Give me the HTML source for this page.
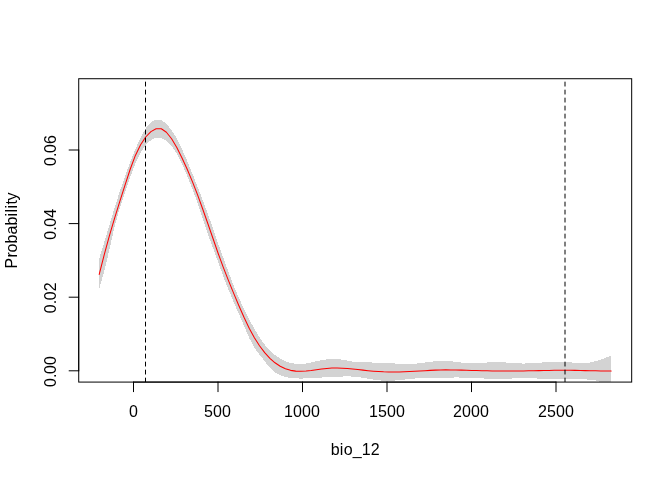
<!DOCTYPE html>
<html lang="en"><head><meta charset="utf-8"><title>bio_12 response</title>
<style>html,body{margin:0;padding:0;background:#fff}body{width:672px;height:480px;overflow:hidden}svg{display:block}</style></head>
<body>
<svg width="672" height="480" viewBox="0 0 672 480">
<rect width="672" height="480" fill="#fff"/>
<defs><clipPath id="pc"><rect x="78.72" y="78.72" width="552.96" height="303.36"/></clipPath></defs>
<g clip-path="url(#pc)">
<polygon points="99.2,258.65 104.4,241.86 109.5,224.88 114.7,207.30 119.9,191.25 125.1,176.21 130.2,162.06 135.4,149.12 140.6,137.69 145.7,128.39 150.9,122.26 156.1,119.61 161.3,120.20 166.4,123.77 171.6,130.03 176.8,138.56 181.9,148.94 187.1,160.73 192.3,173.46 197.5,186.60 202.6,199.79 207.8,213.70 213.0,228.71 218.1,243.51 223.3,257.68 228.5,272.26 233.7,285.72 238.8,297.87 244.0,308.96 249.2,319.24 254.4,328.86 259.5,337.43 264.7,344.60 269.9,350.44 275.0,355.08 280.2,358.63 285.4,361.21 290.6,362.92 295.7,363.83 300.9,364.00 306.1,363.48 311.2,362.46 316.4,361.24 321.6,360.12 326.8,359.35 331.9,359.14 337.1,359.33 342.3,359.56 347.4,360.66 352.6,361.52 357.8,361.94 363.0,362.13 368.1,362.28 373.3,362.59 378.5,363.11 383.6,363.37 388.8,363.44 394.0,363.49 399.2,363.65 404.3,363.83 409.5,363.90 414.7,363.72 419.8,363.20 425.0,362.50 430.2,361.82 435.4,361.28 440.5,360.97 445.7,360.95 450.9,361.28 456.0,361.93 461.2,362.58 466.4,362.95 471.6,363.04 476.7,362.95 481.9,362.74 487.1,362.50 492.3,362.31 497.4,362.22 502.6,362.30 507.8,362.61 512.9,363.04 518.1,363.40 523.3,363.54 528.5,363.43 533.6,363.13 538.8,362.74 544.0,362.33 549.1,361.97 554.3,361.75 559.5,361.73 564.7,361.94 569.8,362.32 575.0,362.80 580.2,363.14 585.3,363.06 590.5,362.38 595.7,361.15 600.9,359.53 606.0,357.63 611.2,355.62 611.2,387.98 606.0,385.24 600.9,382.37 595.7,380.47 590.5,379.75 585.3,379.37 580.2,379.17 575.0,379.08 569.8,379.06 564.7,379.06 559.5,379.06 554.3,379.03 549.1,378.94 544.0,378.78 538.8,378.58 533.6,378.38 528.5,378.22 523.3,378.15 518.1,378.20 512.9,378.42 507.8,378.82 502.6,379.24 497.4,379.51 492.3,379.42 487.1,378.84 481.9,378.26 476.7,378.19 471.6,378.20 466.4,378.04 461.2,377.60 456.0,377.36 450.9,377.74 445.7,378.04 440.5,378.18 435.4,378.21 430.2,378.18 425.0,378.17 419.8,378.26 414.7,378.51 409.5,378.97 404.3,379.55 399.2,380.13 394.0,380.60 388.8,380.85 383.6,380.78 378.5,380.34 373.3,379.62 368.1,378.76 363.0,377.87 357.8,377.10 352.6,376.56 347.4,376.35 342.3,376.53 337.1,376.75 331.9,376.99 326.8,377.23 321.6,377.50 316.4,377.80 311.2,378.14 306.1,378.43 300.9,378.56 295.7,378.44 290.6,377.95 285.4,376.97 280.2,375.30 275.0,372.65 269.9,367.89 264.7,361.22 259.5,354.58 254.4,347.89 249.2,337.91 244.0,325.94 238.8,313.83 233.7,301.97 228.5,289.75 223.3,276.54 218.1,261.89 213.0,248.08 207.8,234.05 202.6,218.40 197.5,202.76 192.3,188.87 187.1,175.65 181.9,163.77 176.8,153.95 171.6,146.10 166.4,141.06 161.3,137.72 156.1,137.77 150.9,140.17 145.7,144.92 140.6,152.56 135.4,163.33 130.2,177.27 125.1,192.16 119.9,207.38 114.7,226.19 109.5,249.24 104.4,270.75 99.2,288.98" fill="#d3d3d3" shape-rendering="crispEdges"/>
<polyline points="99.2,274.39 104.4,254.09 109.5,235.39 114.7,217.88 119.9,201.19 125.1,184.92 130.2,169.24 135.4,155.40 140.6,144.83 145.7,136.99 150.9,131.59 156.1,128.76 161.3,128.79 166.4,132.25 171.6,138.71 176.8,147.43 181.9,157.70 187.1,169.05 192.3,181.39 197.5,194.64 202.6,208.72 207.8,223.50 213.0,238.50 218.1,253.21 223.3,267.33 228.5,280.67 233.7,293.33 238.8,305.49 244.0,317.31 249.2,328.21 254.4,337.69 259.5,345.80 264.7,352.64 269.9,358.27 275.0,362.78 280.2,366.25 285.4,368.75 290.6,370.36 295.7,371.14 300.9,371.30 306.1,371.02 311.2,370.47 316.4,369.78 321.6,369.06 326.8,368.46 331.9,368.10 337.1,368.02 342.3,368.18 347.4,368.53 352.6,369.01 357.8,369.56 363.0,370.14 368.1,370.68 373.3,371.16 378.5,371.55 383.6,371.85 388.8,372.02 394.0,372.06 399.2,371.98 404.3,371.80 409.5,371.56 414.7,371.27 419.8,370.95 425.0,370.65 430.2,370.37 435.4,370.14 440.5,369.97 445.7,369.89 450.9,369.91 456.0,369.99 461.2,370.13 466.4,370.29 471.6,370.45 476.7,370.60 481.9,370.72 487.1,370.83 492.3,370.92 497.4,370.98 502.6,371.02 507.8,371.04 512.9,371.03 518.1,371.00 523.3,370.94 528.5,370.85 533.6,370.75 538.8,370.63 544.0,370.51 549.1,370.40 554.3,370.32 559.5,370.26 564.7,370.25 569.8,370.29 575.0,370.37 580.2,370.48 585.3,370.61 590.5,370.73 595.7,370.85 600.9,370.94 606.0,371.00 611.2,371.00" fill="none" stroke="#ff0000" stroke-width="1.05" stroke-linejoin="round" stroke-linecap="round"/>
<line x1="145.5" y1="382.08" x2="145.5" y2="78.72" stroke="#000" stroke-width="1" stroke-dasharray="4 4" stroke-linecap="round"/>
<line x1="565" y1="382.08" x2="565" y2="78.72" stroke="#000" stroke-width="1" stroke-dasharray="4 4" stroke-linecap="round"/>
</g>
<g stroke="#000" stroke-width="1" fill="none" stroke-linecap="round">
<line x1="133.50" y1="382.08" x2="556.00" y2="382.08"/>
<line x1="133.50" y1="382.08" x2="133.50" y2="391.68"/>
<line x1="218.00" y1="382.08" x2="218.00" y2="391.68"/>
<line x1="302.50" y1="382.08" x2="302.50" y2="391.68"/>
<line x1="387.00" y1="382.08" x2="387.00" y2="391.68"/>
<line x1="471.50" y1="382.08" x2="471.50" y2="391.68"/>
<line x1="556.00" y1="382.08" x2="556.00" y2="391.68"/>
<line x1="78.72" y1="370.80" x2="78.72" y2="150.00"/>
<line x1="78.72" y1="370.80" x2="69.12" y2="370.80"/>
<line x1="78.72" y1="297.20" x2="69.12" y2="297.20"/>
<line x1="78.72" y1="223.60" x2="69.12" y2="223.60"/>
<line x1="78.72" y1="150.00" x2="69.12" y2="150.00"/>
<rect x="78.72" y="78.72" width="552.96" height="303.36"/>
</g>
<g font-family="'Liberation Sans', Arial, Helvetica, sans-serif" font-size="16px" fill="#000">
<text x="129.00" y="416.64">0</text>
<text x="204.00 213.00 222.00" y="416.64">500</text>
<text x="284.00 293.00 302.00 311.00" y="416.64">1000</text>
<text x="369.00 378.00 387.00 396.00" y="416.64">1500</text>
<text x="453.00 462.00 471.00 480.00" y="416.64">2000</text>
<text x="538.00 547.00 556.00 565.00" y="416.64">2500</text>
<text transform="translate(55.68,371.40) rotate(-90)" x="-15.50 -6.50 -2.50 6.50" y="0">0.00</text>
<text transform="translate(55.68,297.80) rotate(-90)" x="-15.50 -6.50 -2.50 6.50" y="0">0.02</text>
<text transform="translate(55.68,224.20) rotate(-90)" x="-15.50 -6.50 -2.50 6.50" y="0">0.04</text>
<text transform="translate(55.68,150.60) rotate(-90)" x="-15.50 -6.50 -2.50 6.50" y="0">0.06</text>
<text x="330.70 339.70 343.70 352.70 361.70 370.70" y="454.8">bio_12</text>
<text transform="translate(17.28,230.40) rotate(-90)" x="-38.00 -27.00 -22.00 -13.00 -4.00 5.00 14.00 18.00 22.00 26.00 30.00" y="0">Probability</text>
</g>
</svg>
</body></html>
